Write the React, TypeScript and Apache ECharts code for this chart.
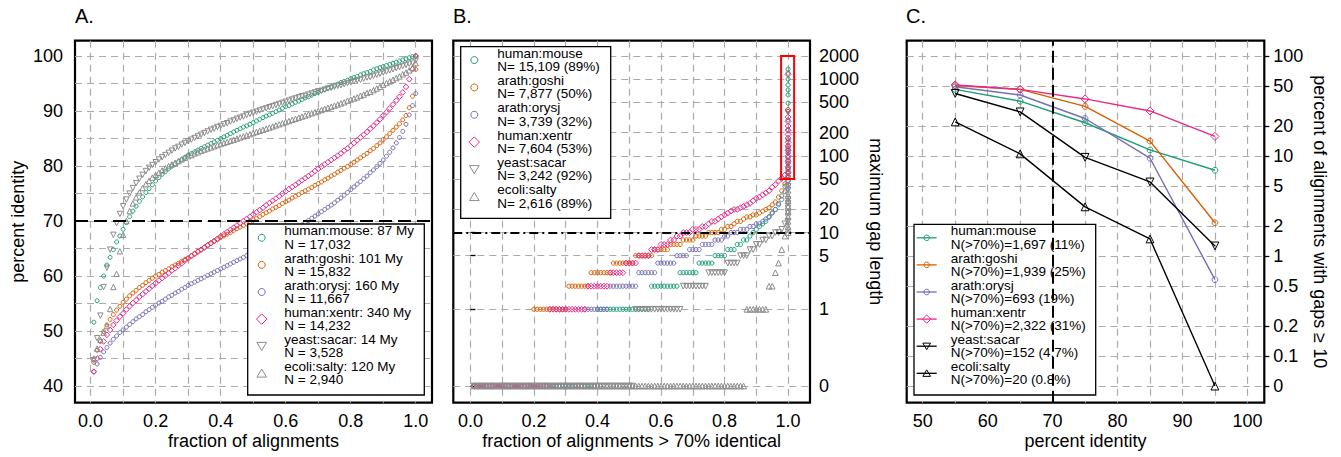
import React, { useEffect, useRef } from 'react';
import * as echarts from 'echarts';

const FONT = '"Liberation Sans", Arial, Helvetica, sans-serif';

// ---------- shared x positions (fraction of alignments) ----------
const FRACTIONS = [
  0.01, 0.02, 0.03, 0.04, 0.05, 0.06, 0.07, 0.08, 0.09, 0.1,
  0.11, 0.12, 0.13, 0.14, 0.15, 0.16, 0.17, 0.18, 0.19, 0.2,
  0.21, 0.22, 0.23, 0.24, 0.25, 0.26, 0.27, 0.28, 0.29, 0.3,
  0.31, 0.32, 0.33, 0.34, 0.35, 0.36, 0.37, 0.38, 0.39, 0.4,
  0.41, 0.42, 0.43, 0.44, 0.45, 0.46, 0.47, 0.48, 0.49, 0.5,
  0.51, 0.52, 0.53, 0.54, 0.55, 0.56, 0.57, 0.58, 0.59, 0.6,
  0.61, 0.62, 0.63, 0.64, 0.65, 0.66, 0.67, 0.68, 0.69, 0.7,
  0.71, 0.72, 0.73, 0.74, 0.75, 0.76, 0.77, 0.78, 0.79, 0.8,
  0.81, 0.82, 0.83, 0.84, 0.85, 0.86, 0.87, 0.88, 0.89, 0.9,
  0.91, 0.92, 0.93, 0.94, 0.95, 0.96, 0.97, 0.98, 0.99, 1.0,
];

// ---------- Panel A: percent identity quantiles ----------
const A_HUMAN_MOUSE = [
  51.6, 55.5, 57.9, 60.0, 62.0, 63.4, 64.8, 66.2, 67.3, 68.5,
  69.7, 70.8, 71.8, 72.7, 73.6, 74.4, 75.2, 75.9, 76.6, 77.3,
  77.9, 78.5, 79.0, 79.5, 80.0, 80.4, 80.8, 81.2, 81.6, 82.0,
  82.3, 82.6, 82.9, 83.2, 83.5, 83.8, 84.1, 84.4, 84.7, 85.0,
  85.3, 85.6, 85.9, 86.2, 86.5, 86.8, 87.1, 87.3, 87.6, 87.9,
  88.2, 88.5, 88.8, 89.1, 89.3, 89.6, 89.9, 90.2, 90.5, 90.8,
  91.0, 91.3, 91.6, 91.8, 92.1, 92.4, 92.6, 92.9, 93.2, 93.4,
  93.7, 93.9, 94.2, 94.4, 94.7, 94.9, 95.2, 95.4, 95.6, 95.9,
  96.1, 96.3, 96.6, 96.8, 97.0, 97.2, 97.5, 97.7, 97.9, 98.1,
  98.3, 98.5, 98.7, 98.9, 99.1, 99.3, 99.5, 99.7, 99.9, 100.0,
];
const A_ARATH_GOSHI = [
  44.3, 46.5, 48.1, 49.9, 51.1, 52.1, 53.0, 53.8, 54.5, 55.2,
  55.8, 56.4, 56.9, 57.4, 57.9, 58.3, 58.8, 59.2, 59.6, 60.0,
  60.3, 60.7, 61.0, 61.3, 61.7, 62.0, 62.3, 62.7, 63.0, 63.3,
  63.7, 64.1, 64.5, 64.8, 65.2, 65.6, 65.9, 66.3, 66.6, 67.0,
  67.3, 67.6, 67.9, 68.3, 68.6, 68.9, 69.2, 69.5, 69.9, 70.2,
  70.5, 70.8, 71.2, 71.5, 71.8, 72.2, 72.5, 72.8, 73.2, 73.5,
  73.8, 74.2, 74.5, 74.8, 75.2, 75.5, 75.8, 76.1, 76.5, 76.8,
  77.1, 77.5, 77.8, 78.2, 78.5, 78.9, 79.2, 79.6, 79.9, 80.3,
  80.7, 81.1, 81.5, 81.9, 82.3, 82.8, 83.2, 83.7, 84.2, 84.8,
  85.3, 85.9, 86.5, 87.1, 87.7, 88.4, 89.2, 90.6, 92.7, 97.6,
];
const A_ARATH_ORYSJ = [
  42.6, 44.0, 45.2, 46.2, 47.0, 47.8, 48.5, 49.1, 49.7, 50.2,
  50.7, 51.2, 51.7, 52.2, 52.6, 53.0, 53.5, 53.9, 54.3, 54.7,
  55.1, 55.4, 55.8, 56.2, 56.5, 56.9, 57.2, 57.6, 57.9, 58.3,
  58.6, 58.9, 59.2, 59.5, 59.8, 60.1, 60.4, 60.7, 61.0, 61.3,
  61.6, 61.9, 62.2, 62.5, 62.8, 63.1, 63.4, 63.7, 64.0, 64.3,
  64.6, 64.9, 65.3, 65.6, 65.9, 66.2, 66.6, 66.9, 67.2, 67.5,
  67.9, 68.2, 68.6, 68.9, 69.3, 69.7, 70.1, 70.5, 70.9, 71.3,
  71.7, 72.1, 72.5, 72.9, 73.3, 73.8, 74.2, 74.7, 75.2, 75.7,
  76.2, 76.7, 77.2, 77.7, 78.2, 78.8, 79.3, 79.9, 80.5, 81.1,
  81.8, 82.5, 83.3, 84.2, 85.2, 86.3, 87.6, 89.3, 91.0, 93.2,
];
const A_HUMAN_XENTR = [
  42.6, 45.0, 46.7, 48.1, 49.3, 50.2, 51.1, 51.9, 52.6, 53.2,
  53.9, 54.5, 55.1, 55.6, 56.2, 56.7, 57.2, 57.7, 58.2, 58.7,
  59.2, 59.6, 60.1, 60.5, 61.0, 61.4, 61.9, 62.3, 62.8, 63.2,
  63.6, 64.0, 64.4, 64.8, 65.2, 65.6, 66.0, 66.4, 66.8, 67.2,
  67.6, 68.0, 68.4, 68.8, 69.2, 69.6, 70.0, 70.4, 70.8, 71.2,
  71.6, 72.0, 72.4, 72.9, 73.3, 73.7, 74.1, 74.5, 75.0, 75.4,
  75.8, 76.2, 76.6, 77.0, 77.4, 77.8, 78.2, 78.6, 79.1, 79.5,
  79.9, 80.3, 80.7, 81.1, 81.5, 81.9, 82.3, 82.8, 83.2, 83.7,
  84.2, 84.7, 85.2, 85.7, 86.2, 86.8, 87.3, 87.9, 88.5, 89.2,
  89.8, 90.5, 91.2, 91.9, 92.6, 93.4, 94.4, 95.8, 97.6, 100.0,
];
const A_YEAST_SACAR = [
  44.7, 48.7, 52.8, 58.0, 61.5, 64.8, 67.5, 69.6, 71.3, 72.7,
  73.9, 75.0, 76.0, 76.9, 77.7, 78.4, 79.1, 79.7, 80.2, 80.7,
  81.2, 81.6, 82.0, 82.4, 82.8, 83.2, 83.5, 83.9, 84.2, 84.5,
  84.8, 85.1, 85.4, 85.7, 86.0, 86.3, 86.6, 86.8, 87.1, 87.3,
  87.6, 87.8, 88.1, 88.3, 88.6, 88.8, 89.0, 89.3, 89.5, 89.7,
  89.9, 90.1, 90.3, 90.5, 90.7, 90.9, 91.1, 91.3, 91.5, 91.7,
  91.9, 92.1, 92.3, 92.5, 92.7, 92.8, 93.0, 93.2, 93.4, 93.6,
  93.7, 93.9, 94.1, 94.2, 94.4, 94.6, 94.7, 94.9, 95.1, 95.2,
  95.4, 95.6, 95.7, 95.9, 96.1, 96.2, 96.4, 96.6, 96.8, 97.0,
  97.2, 97.4, 97.6, 97.8, 98.0, 98.2, 98.4, 98.6, 98.8, 99.2,
];
const A_ECOLI_SALTY = [
  45.0, 46.8, 48.4, 49.7, 50.9, 54.0, 58.0, 60.4, 64.5, 67.5,
  70.0, 71.8, 73.2, 74.3, 75.2, 76.0, 76.7, 77.3, 77.9, 78.4,
  78.8, 79.2, 79.6, 80.0, 80.3, 80.6, 80.9, 81.2, 81.5, 81.8,
  82.0, 82.3, 82.5, 82.8, 83.0, 83.2, 83.4, 83.6, 83.8, 84.0,
  84.2, 84.4, 84.6, 84.8, 85.0, 85.2, 85.4, 85.6, 85.8, 86.0,
  86.2, 86.4, 86.6, 86.8, 87.0, 87.2, 87.4, 87.6, 87.8, 88.0,
  88.2, 88.4, 88.6, 88.8, 89.0, 89.2, 89.4, 89.6, 89.8, 90.0,
  90.2, 90.4, 90.6, 90.8, 91.0, 91.2, 91.4, 91.6, 91.9, 92.1,
  92.3, 92.5, 92.8, 93.0, 93.3, 93.5, 93.8, 94.1, 94.4, 94.8,
  95.1, 95.4, 95.7, 96.0, 96.3, 96.7, 97.0, 97.4, 97.9, 98.7,
];

// ---------- Panel B: maximum gap length quantiles ----------
const B_HUMAN_MOUSE = [
  0, 0, 0, 0, 0, 0, 0, 0, 0, 0,
  0, 0, 0, 0, 0, 0, 0, 0, 0, 0,
  0, 0, 0, 0, 0, 0, 0, 0, 0, 0,
  0, 0, 0, 0, 0, 0, 0, 0, 0, 1,
  1, 1, 1, 1, 1, 1, 1, 1, 1, 1,
  1, 1, 1, 1, 1, 1, 2, 2, 2, 2,
  2, 2, 2, 2, 2, 3, 3, 3, 3, 3,
  3, 4, 4, 4, 4, 4, 5, 5, 5, 5,
  6, 6, 6, 7, 7, 8, 8, 9, 10, 11,
  12, 13, 14, 16, 18, 20, 24, 30, 40, 1346,
];
const B_ARATH_GOSHI = [
  0, 0, 0, 0, 0, 0, 0, 0, 0, 0,
  0, 0, 0, 0, 0, 0, 0, 0, 0, 1,
  1, 1, 1, 1, 1, 1, 1, 1, 1, 1,
  2, 2, 2, 2, 2, 2, 2, 3, 3, 3,
  3, 3, 3, 3, 4, 4, 4, 4, 4, 4,
  4, 5, 5, 5, 5, 5, 5, 6, 6, 6,
  6, 6, 7, 7, 7, 7, 8, 8, 8, 8,
  9, 9, 9, 9, 10, 10, 10, 10, 11, 11,
  12, 12, 13, 14, 14, 15, 16, 16, 17, 17,
  18, 19, 20, 21, 23, 25, 29, 35, 43, 400,
];
const B_ARATH_ORYSJ = [
  0, 0, 0, 0, 0, 0, 0, 0, 0, 0,
  0, 0, 0, 0, 0, 0, 0, 0, 0, 0,
  0, 0, 0, 0, 0, 0, 0, 0, 0, 0,
  0, 0, 0, 0, 0, 1, 1, 1, 1, 1,
  1, 1, 1, 2, 2, 2, 2, 2, 2, 2,
  2, 2, 3, 3, 3, 3, 3, 3, 4, 4,
  4, 4, 4, 4, 5, 5, 5, 5, 6, 6,
  6, 6, 7, 7, 7, 7, 8, 8, 8, 9,
  9, 10, 10, 10, 11, 11, 11, 12, 12, 13,
  13, 14, 15, 16, 18, 20, 23, 27, 34, 125,
];
const B_HUMAN_XENTR = [
  0, 0, 0, 0, 0, 0, 0, 0, 0, 0,
  0, 0, 0, 0, 0, 0, 0, 0, 0, 0,
  0, 0, 0, 0, 1, 1, 1, 1, 1, 1,
  1, 1, 1, 1, 1, 1, 2, 2, 2, 2,
  2, 2, 2, 3, 3, 3, 3, 3, 4, 4,
  4, 4, 5, 5, 5, 5, 6, 6, 6, 7,
  7, 7, 8, 8, 9, 9, 10, 10, 10, 11,
  11, 11, 12, 12, 13, 14, 14, 15, 16, 17,
  18, 19, 20, 20, 21, 22, 23, 24, 26, 28,
  29, 31, 33, 35, 39, 42, 47, 51, 56, 1150,
];
const B_YEAST_SACAR = [
  0, 0, 0, 0, 0, 0, 0, 0, 0, 0,
  0, 0, 0, 0, 0, 0, 0, 0, 0, 0,
  0, 0, 0, 0, 0, 0, 0, 0, 0, 0,
  0, 0, 0, 0, 0, 0, 0, 0, 0, 0,
  0, 0, 0, 0, 0, 0, 0, 0, 0, 0,
  0, 1, 1, 1, 1, 1, 1, 1, 1, 1,
  1, 1, 1, 1, 1, 1, 2, 2, 2, 2,
  2, 2, 2, 2, 3, 3, 3, 3, 3, 3,
  4, 4, 4, 4, 5, 5, 5, 6, 6, 7,
  7, 8, 8, 9, 9, 10, 10, 11, 13, 45,
];
const B_ECOLI_SALTY = [
  0, 0, 0, 0, 0, 0, 0, 0, 0, 0,
  0, 0, 0, 0, 0, 0, 0, 0, 0, 0,
  0, 0, 0, 0, 0, 0, 0, 0, 0, 0,
  0, 0, 0, 0, 0, 0, 0, 0, 0, 0,
  0, 0, 0, 0, 0, 0, 0, 0, 0, 0,
  0, 0, 0, 0, 0, 0, 0, 0, 0, 0,
  0, 0, 0, 0, 0, 0, 0, 0, 0, 0,
  0, 0, 0, 0, 0, 0, 0, 0, 0, 0,
  0, 0, 0, 0, 0, 0, 1, 1, 1, 1,
  1, 1, 1, 2, 2, 3, 4, 6, 9, 30,
];
// top tail of each distribution, all plotted at fraction 1.0
const B_TAIL_HUMAN_MOUSE = [54, 66, 88, 119, 161, 218, 294, 378, 485, 622, 723, 840, 1000, 1195];
const B_TAIL_ARATH_GOSHI = [48, 55, 62, 70, 80, 95, 110, 130];
const B_TAIL_ARATH_ORYSJ = [38, 42, 47, 53, 60, 68, 80, 95, 110];
const B_TAIL_HUMAN_XENTR = [60, 72, 85, 100, 118, 135, 150, 170, 190, 215, 245, 280, 320, 395];
const B_TAIL_YEAST_SACAR = [14, 16, 18, 21, 24, 27, 31, 36, 40];
const B_TAIL_ECOLI_SALTY = [10, 11, 12, 14, 16, 19, 22, 26];
const B_TAIL_X = 1.0;
const B_BOX = { x0: 0.978, x1: 1.019, y0: 50, y1: 2000 };
const B_CUTOFF = 10;

// ---------- Panel C: percent of alignments with gaps >= 10 ----------
const C_PCT_ID = [55, 65, 75, 85, 95];
const C_HUMAN_MOUSE = [46.4, 35.3, 21.5, 11.5, 7.2];
const C_ARATH_GOSHI = [50.6, 46.4, 31.3, 14.1, 2.15];
const C_ARATH_ORYSJ = [49.2, 40.7, 23.7, 9.5, 0.58];
const C_HUMAN_XENTR = [51.3, 46.4, 37.2, 28.2, 15.7];
const C_YEAST_SACAR = [42.2, 27.6, 9.7, 5.5, 1.26];
const C_ECOLI_SALTY = [21.9, 10.5, 3.1, 1.48, 0];
const C_CUTOFF = 70;
const A_CUTOFF = 70;

// ---------- ticks ----------
const A_X_GRID = [0, 0.1, 0.2, 0.3, 0.4, 0.5, 0.6, 0.7, 0.8, 0.9, 1.0];
const A_X_LABELS = [0, 0.2, 0.4, 0.6, 0.8, 1.0];
const A_Y_GRID = [40, 45, 50, 55, 60, 65, 70, 75, 80, 85, 90, 95, 100];
const A_Y_LABELS = [40, 50, 60, 70, 80, 90, 100];
const B_Y_LABELS = [0, 1, 5, 10, 20, 50, 100, 200, 500, 1000, 2000];
const C_X_GRID = [50, 55, 60, 65, 70, 75, 80, 85, 90, 95, 100];
const C_X_LABELS = [50, 60, 70, 80, 90, 100];
const C_Y_LABELS = [0, 0.1, 0.2, 0.5, 1, 2, 5, 10, 20, 50, 100];
const B_ZERO = 0.1; // where a zero gap is drawn on the log axis
const C_ZERO = 0.05;

// ---------- legends ----------
const SPECIES = ['human:mouse', 'arath:goshi', 'arath:orysj', 'human:xentr', 'yeast:sacar', 'ecoli:salty'];
const A_LEGEND = [': 87 My', ': 101 My', ': 160 My', ': 340 My', ': 14 My', ': 120 My'];
const A_LEGEND_N = ['N = 17,032', 'N = 15,832', 'N = 11,667', 'N = 14,232', 'N = 3,528', 'N = 2,940'];
const B_LEGEND_N = ['N= 15,109 (89%)', 'N= 7,877 (50%)', 'N= 3,739 (32%)', 'N= 7,604 (53%)', 'N= 3,242 (92%)', 'N= 2,616 (89%)'];
const C_LEGEND_N = ['N(>70%)=1,697 (11%)', 'N(>70%)=1,939 (25%)', 'N(>70%)=693 (19%)', 'N(>70%)=2,322 (31%)', 'N(>70%)=152 (4.7%)', 'N(>70%)=20 (0.8%)'];

const COLORS = ['#1B9E77', '#D95F02', '#7570B3', '#E7298A', '#8c8c8c', '#8c8c8c'];
const C_COLORS = ['#1B9E77', '#D95F02', '#7570B3', '#E7298A', '#000000', '#000000'];
const SYMS = ['circle', 'circle', 'circle', 'diamond', 'down', 'up'];

const A_DATA = [A_HUMAN_MOUSE, A_ARATH_GOSHI, A_ARATH_ORYSJ, A_HUMAN_XENTR, A_YEAST_SACAR, A_ECOLI_SALTY];
const B_DATA = [B_HUMAN_MOUSE, B_ARATH_GOSHI, B_ARATH_ORYSJ, B_HUMAN_XENTR, B_YEAST_SACAR, B_ECOLI_SALTY];
const B_TAILS = [B_TAIL_HUMAN_MOUSE, B_TAIL_ARATH_GOSHI, B_TAIL_ARATH_ORYSJ, B_TAIL_HUMAN_XENTR, B_TAIL_YEAST_SACAR, B_TAIL_ECOLI_SALTY];
const C_DATA = [C_HUMAN_MOUSE, C_ARATH_GOSHI, C_ARATH_ORYSJ, C_HUMAN_XENTR, C_YEAST_SACAR, C_ECOLI_SALTY];

function symbolOf(s: string, scale: number) {
  if (s === 'circle') return { symbol: 'circle', size: 4 * scale, rotate: 0 };
  if (s === 'diamond') return { symbol: 'diamond', size: 5.6 * scale, rotate: 0 };
  if (s === 'down') return { symbol: 'triangle', size: 5.4 * scale, rotate: 180 };
  return { symbol: 'triangle', size: 5.4 * scale, rotate: 0 };
}

function legendSymbol(s: string, cx: number, cy: number, color: string, k: number, z: number) {
  const style = { fill: 'none', stroke: color, lineWidth: 1 };
  if (s === 'circle') return { type: 'circle', shape: { cx, cy, r: 3.5 * k }, style, z };
  if (s === 'diamond') {
    const h = 5.2 * k;
    return { type: 'polygon', shape: { points: [[cx, cy - h], [cx + h, cy], [cx, cy + h], [cx - h, cy]] }, style, z };
  }
  const h = 4.8 * k;
  if (s === 'down') {
    return { type: 'polygon', shape: { points: [[cx - h, cy - h * 0.8], [cx + h, cy - h * 0.8], [cx, cy + h * 0.9]] }, style, z };
  }
  return { type: 'polygon', shape: { points: [[cx - h, cy + h * 0.8], [cx + h, cy + h * 0.8], [cx, cy - h * 0.9]] }, style, z };
}

function legendBlock(
  box: { x: number; y: number; w: number; h: number },
  symX: number, textX: number, line1Y: number, step: number,
  lines1: string[], lines2: string[], colors: string[], k: number, lineHalf: number,
) {
  const z = 4;
  const els: any[] = [
    { type: 'rect', shape: { x: box.x, y: box.y, width: box.w, height: box.h }, style: { fill: '#fff', stroke: '#000', lineWidth: 1.3 }, z },
  ];
  lines1.forEach((l1, i) => {
    const y1 = line1Y + step * i;
    const mid = y1 + 6.6;
    const sy = y1 + 6.8;
    els.push({
      type: 'text', x: textX, y: mid,
      style: { text: l1 + '\n' + lines2[i], fill: '#000', fontSize: 13.5, lineHeight: 13.3, fontFamily: FONT, verticalAlign: 'middle', align: 'left' },
      z,
    });
    if (lineHalf > 0) {
      els.push({ type: 'line', shape: { x1: symX - lineHalf, y1: sy, x2: symX + lineHalf, y2: sy }, style: { stroke: colors[i], lineWidth: 1.3 }, z });
    }
    els.push(legendSymbol(SYMS[i], symX, sy, colors[i], k, z));
  });
  return els;
}

const labelBase = { color: '#000', fontSize: 18, fontFamily: FONT };
const nameStyle = { color: '#000', fontSize: 18, fontFamily: FONT };
const gridLine = { show: true, lineStyle: { color: '#ababab', width: 1.2, type: [7, 5] } };

function buildOption() {
  const grids = [
    { left: 75, top: 40.7, width: 357, height: 362 },
    { left: 453.3, top: 40.7, width: 356.7, height: 362 },
    { left: 906.7, top: 40.7, width: 357.6, height: 362 },
  ].map((g) => ({ ...g, show: true, borderColor: '#000', borderWidth: 2.2, backgroundColor: 'transparent', containLabel: false, outerBoundsMode: 'none' }));

  const xAxis = [
    {
      gridIndex: 0, type: 'value', min: -0.048, max: 1.05,
      axisLine: { show: false }, axisTick: { show: false, customValues: A_X_GRID },
      axisLabel: { ...labelBase, customValues: A_X_LABELS, margin: 9, formatter: (v: number) => v.toFixed(1) },
      splitLine: gridLine,
      name: 'fraction of alignments', nameLocation: 'middle', nameGap: 29, nameTextStyle: nameStyle, nameMoveOverlap: false,
    },
    {
      gridIndex: 1, type: 'value', min: -0.054, max: 1.069,
      axisLine: { show: false }, axisTick: { show: false, customValues: A_X_GRID },
      axisLabel: { ...labelBase, customValues: A_X_LABELS, margin: 9, formatter: (v: number) => v.toFixed(1) },
      splitLine: gridLine,
      name: 'fraction of alignments > 70% identical', nameLocation: 'middle', nameGap: 29, nameTextStyle: nameStyle, nameMoveOverlap: false,
    },
    {
      gridIndex: 2, type: 'value', min: 47.53, max: 102.6,
      axisLine: { show: false }, axisTick: { show: false, customValues: C_X_GRID },
      axisLabel: { ...labelBase, customValues: C_X_LABELS, margin: 9 },
      splitLine: gridLine,
      name: 'percent identity', nameLocation: 'middle', nameGap: 29, nameTextStyle: nameStyle, nameMoveOverlap: false,
    },
  ];

  const bTicks = B_Y_LABELS.map((v) => (v === 0 ? B_ZERO : v));
  const cTicks = C_Y_LABELS.map((v) => (v === 0 ? C_ZERO : v));
  const yAxis = [
    {
      gridIndex: 0, type: 'value', min: 36.96, max: 102.8, position: 'left',
      axisLine: { show: false }, axisTick: { show: false, customValues: A_Y_GRID },
      axisLabel: { ...labelBase, customValues: A_Y_LABELS, margin: 12 },
      splitLine: gridLine,
      name: 'percent identity', nameLocation: 'middle', nameRotate: 90, nameGap: 48, nameTextStyle: nameStyle, nameMoveOverlap: false,
    },
    {
      gridIndex: 1, type: 'log', logBase: 10, min: 0.0606, max: 3166, position: 'right',
      axisLine: { show: false },
      axisTick: { show: true, inside: false, length: 5, lineStyle: { color: '#000', width: 1.3 }, customValues: bTicks },
      axisLabel: { ...labelBase, customValues: bTicks, margin: 9, formatter: (v: number) => (v < 0.5 ? '0' : String(v)) },
      splitLine: gridLine,
      name: 'maximum gap length', nameLocation: 'middle', nameRotate: -90, nameGap: 57, nameTextStyle: nameStyle, nameMoveOverlap: false,
    },
    {
      gridIndex: 2, type: 'log', logBase: 10, min: 0.0341, max: 142.2, position: 'right',
      axisLine: { show: false },
      axisTick: { show: true, inside: false, length: 5, lineStyle: { color: '#000', width: 1.3 }, customValues: cTicks },
      axisLabel: { ...labelBase, customValues: cTicks, margin: 9, formatter: (v: number) => (v < 0.07 ? '0' : String(v)) },
      splitLine: gridLine,
      name: 'percent of alignments with gaps \u2265 10', nameLocation: 'middle', nameRotate: -90, nameGap: 47, nameTextStyle: nameStyle, nameMoveOverlap: false,
    },
  ];

  const series: any[] = [];
  // Panel A
  A_DATA.forEach((vals, i) => {
    const s = symbolOf(SYMS[i], 1);
    const obj: any = {
      type: 'scatter', name: 'A ' + SPECIES[i], xAxisIndex: 0, yAxisIndex: 0,
      data: FRACTIONS.map((f, j) => [f, vals[j]]),
      symbol: s.symbol, symbolSize: s.size, symbolRotate: s.rotate,
      itemStyle: { color: 'rgba(0,0,0,0)', borderColor: COLORS[i], borderWidth: 1, opacity: 1 },
      emphasis: { disabled: true }, silent: true, z: 2,
    };
    if (i === 0) {
      obj.markLine = {
        silent: true, symbol: ['none', 'none'], label: { show: false }, z: 5,
        lineStyle: { color: '#000', width: 2, type: [13, 6] },
        data: [{ yAxis: A_CUTOFF }],
      };
    }
    series.push(obj);
  });
  // Panel B
  B_DATA.forEach((vals, i) => {
    const s = symbolOf(SYMS[i], 1.05);
    const main = FRACTIONS.map((f, j) => [f, vals[j] === 0 ? B_ZERO : vals[j]]);
    const tail = B_TAILS[i].map((v) => [B_TAIL_X, v]);
    const obj: any = {
      type: 'scatter', name: 'B ' + SPECIES[i], xAxisIndex: 1, yAxisIndex: 1,
      data: main.concat(tail),
      symbol: s.symbol, symbolSize: s.size, symbolRotate: s.rotate,
      itemStyle: { color: 'rgba(0,0,0,0)', borderColor: COLORS[i], borderWidth: 1, opacity: 1 },
      emphasis: { disabled: true }, silent: true, z: 2,
    };
    if (i === 0) {
      obj.markLine = {
        silent: true, symbol: ['none', 'none'], label: { show: false }, z: 5,
        lineStyle: { color: '#000', width: 2, type: [9, 4, 2, 4] },
        data: [{ yAxis: B_CUTOFF }],
      };
      obj.markArea = {
        silent: true, z: 5,
        itemStyle: { color: 'rgba(0,0,0,0)', borderColor: '#ff0000', borderWidth: 2 },
        data: [[{ xAxis: B_BOX.x0, yAxis: B_BOX.y0 }, { xAxis: B_BOX.x1, yAxis: B_BOX.y1 }]],
      };
    }
    series.push(obj);
  });
  // Panel C
  C_DATA.forEach((vals, i) => {
    const s = symbolOf(SYMS[i], 1.45);
    const obj: any = {
      type: 'line', name: 'C ' + SPECIES[i], xAxisIndex: 2, yAxisIndex: 2,
      data: C_PCT_ID.map((x, j) => [x, vals[j] === 0 ? C_ZERO : vals[j]]),
      symbol: s.symbol, symbolSize: s.size, symbolRotate: s.rotate, showAllSymbol: true,
      lineStyle: { color: C_COLORS[i], width: 1.4 },
      itemStyle: { color: 'rgba(0,0,0,0)', borderColor: C_COLORS[i], borderWidth: 1, opacity: 1 },
      emphasis: { disabled: true }, silent: true, z: 2,
    };
    if (i === 0) {
      obj.markLine = {
        silent: true, symbol: ['none', 'none'], label: { show: false }, z: 5,
        lineStyle: { color: '#000', width: 2, type: [12, 5] },
        data: [{ xAxis: C_CUTOFF }],
      };
    }
    series.push(obj);
  });

  const graphic: any[] = [
    { type: 'text', x: 75, y: 16, style: { text: 'A.', fill: '#000', fontSize: 20, fontFamily: FONT, verticalAlign: 'middle' } },
    { type: 'text', x: 453, y: 16, style: { text: 'B.', fill: '#000', fontSize: 20, fontFamily: FONT, verticalAlign: 'middle' } },
    { type: 'text', x: 906, y: 16, style: { text: 'C.', fill: '#000', fontSize: 20, fontFamily: FONT, verticalAlign: 'middle' } },
    ...legendBlock({ x: 247.7, y: 224, w: 176.6, h: 171 }, 261.7, 284.3, 231, 27.1,
      SPECIES.map((s, i) => s + A_LEGEND[i]), A_LEGEND_N, COLORS, 1, 0),
    ...legendBlock({ x: 460.7, y: 46.7, w: 150, h: 171.6 }, 474.3, 497.3, 53.3, 27.33,
      SPECIES, B_LEGEND_N, COLORS, 1, 0),
    ...legendBlock({ x: 914, y: 224.3, w: 181.7, h: 170.7 }, 926.7, 950.7, 231, 27.1,
      SPECIES, C_LEGEND_N, C_COLORS, 0.8, 10),
  ];

  return {
    animation: false,
    backgroundColor: '#fff',
    textStyle: { fontFamily: FONT },
    grid: grids,
    xAxis,
    yAxis,
    series,
    graphic,
  };
}

export default function App() {
  const ref = useRef<HTMLDivElement>(null);
  useEffect(() => {
    if (!ref.current) return;
    const chart = echarts.init(ref.current, undefined, { renderer: 'svg' });
    chart.setOption(buildOption() as any);
    return () => chart.dispose();
  }, []);
  return (
    <div
      ref={ref}
      style={{ position: 'fixed', left: 0, top: 0, width: 1341, height: 457, background: '#fff' }}
    />
  );
}
